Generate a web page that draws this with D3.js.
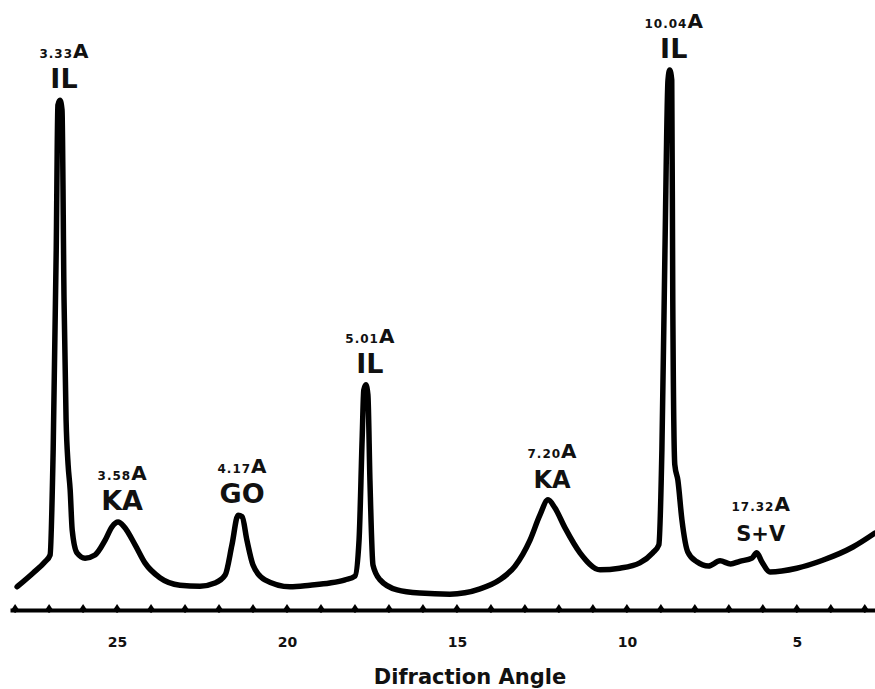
<!DOCTYPE html>
<html>
<head>
<meta charset="utf-8">
<script src="https://cdn.jsdelivr.net/npm/d3@7"></script>
<style>
  body { margin: 0; background: #fff; }
  svg { display: block; }
</style>
</head>
<body>
<script>
// xrd trace (2theta, relative counts)
const angle = [27.94, 27.47, 27.12, 26.97, 26.88, 26.79, 26.74, 26.68, 26.62, 26.56, 26.50, 26.44, 26.38, 26.32, 26.18, 25.94, 25.65, 25.35, 25.15, 24.97, 24.79, 24.47, 24.18, 23.74, 23.15, 22.56, 22.12, 21.82, 21.62, 21.44, 21.32, 21.18, 21.00, 20.65, 19.91, 19.32, 18.74, 18.29, 18.00, 17.88, 17.79, 17.74, 17.68, 17.62, 17.56, 17.47, 17.26, 16.76, 16.09, 15.21, 14.32, 13.74, 13.29, 12.85, 12.56, 12.32, 12.12, 11.82, 11.38, 10.79, 10.21, 9.62, 9.24, 9.06, 8.97, 8.88, 8.79, 8.74, 8.68, 8.65, 8.59, 8.50, 8.38, 8.21, 7.94, 7.60, 7.26, 6.95, 6.68, 6.32, 6.18, 6.03, 5.79, 5.00, 4.24, 3.35, 2.71]
const intensity = [2.5, 5.1, 7.2, 8.5, 28.3, 66.0, 93.4, 94.3, 92.5, 56.6, 34.0, 25.5, 20.8, 13.2, 8.9, 7.9, 8.5, 11.3, 13.8, 14.7, 13.8, 10.4, 7.0, 4.2, 2.8, 2.6, 3.2, 4.7, 10.4, 16.0, 15.7, 11.3, 6.6, 3.8, 2.5, 2.8, 3.2, 3.8, 4.5, 11.3, 30.2, 39.6, 40.6, 38.7, 22.6, 6.6, 3.8, 1.9, 1.3, 1.1, 2.1, 3.8, 6.4, 11.3, 16.0, 18.9, 17.4, 13.6, 8.9, 5.7, 6.0, 7.0, 8.9, 10.4, 28.3, 66.0, 98.1, 100, 98.1, 56.6, 25.5, 22.6, 15.1, 9.1, 7.2, 6.4, 7.4, 6.8, 7.3, 7.9, 8.9, 7.2, 5.3, 6.0, 7.5, 10.0, 12.6]

const tickLabels = [25, 20, 15, 10, 5]
const minorTicks = d3.range(3, 29)

// peak annotations
const peakAngle = [26.68, 24.97, 21.44, 17.68, 12.32, 8.74, 6.18]
const peakD = ['3.33', '3.58', '4.17', '5.01', '7.20', '10.04', '17.32']
const peakMineral = ['IL', 'KA', 'GO', 'IL', 'KA', 'IL', 'S+V']

const W = 875, H = 689
const font = "'DejaVu Sans', sans-serif"

const svg = d3.select('body').append('svg')
      .attr('width', W)
      .attr('height', H)

const x = d3.scaleLinear()
      .domain([28.15, 2.7])
      .range([10, 875])

const y = d3.scaleLinear()
      .domain([0, 100])
      .range([600, 70])

const axisY = 610

const data = angle.map((a, i) => ({a: a, v: intensity[i]}))

// axis line + labels
const axis = svg.append('g')
      .attr('transform', 'translate(0,' + axisY + ')')
      .call(d3.axisBottom(x).tickValues(tickLabels).tickSize(0).tickPadding(27).tickFormat(d3.format('d')))

axis.select('.domain')
      .attr('stroke', '#000')
      .attr('stroke-width', 4)

axis.selectAll('text')
      .style('font-family', font)
      .style('font-weight', 'bold')
      .style('font-size', '14px')
      .attr('fill', '#111')

// little triangle marks every degree
svg.append('g')
      .selectAll('path')
      .data(minorTicks)
      .enter()
      .append('path')
      .attr('transform', d => 'translate(' + x(d) + ',' + axisY + ')')
      .attr('d', 'M-4,0L0,-6L4,0L0,3Z')
      .attr('fill', '#000')

// trace
const line = d3.line()
      .x(d => x(d.a))
      .y(d => y(d.v))
      .curve(d3.curveMonotoneX)

svg.append('path')
      .datum(data)
      .attr('d', line)
      .attr('fill', 'none')
      .attr('stroke', '#000')
      .attr('stroke-width', 5.5)
      .attr('stroke-linejoin', 'round')
      .attr('stroke-linecap', 'round')

// peak labels
function peakTop(a) {
  return d3.max(data.filter(d => Math.abs(d.a - a) < 0.3), d => d.v)
}

const labels = svg.append('g')
      .selectAll('g')
      .data(peakAngle)
      .enter()
      .append('g')
      .attr('transform', d => 'translate(' + (x(d) + 4) + ',' + (y(peakTop(d)) - 12) + ')')
      .style('font-family', font)
      .style('font-weight', 'bold')
      .attr('text-anchor', 'middle')
      .attr('fill', '#111')

labels.append('text')
      .style('font-size', (d, i) => peakMineral[i] == 'S+V' ? '21px' : (i == 4 ? '24px' : '27px'))
      .text((d, i) => peakMineral[i])

const dText = labels.append('text')
      .attr('y', -30)

dText.append('tspan')
      .style('font-size', '12px')
      .style('letter-spacing', '1px')
      .text((d, i) => peakD[i])

dText.append('tspan')
      .style('font-size', '20px')
      .text('A')

svg.append('text')
      .attr('x', 470)
      .attr('y', 684)
      .attr('text-anchor', 'middle')
      .style('font-family', font)
      .style('font-weight', 'bold')
      .style('font-size', '21px')
      .attr('fill', '#111')
      .text('Difraction Angle')
</script>
</body>
</html>
